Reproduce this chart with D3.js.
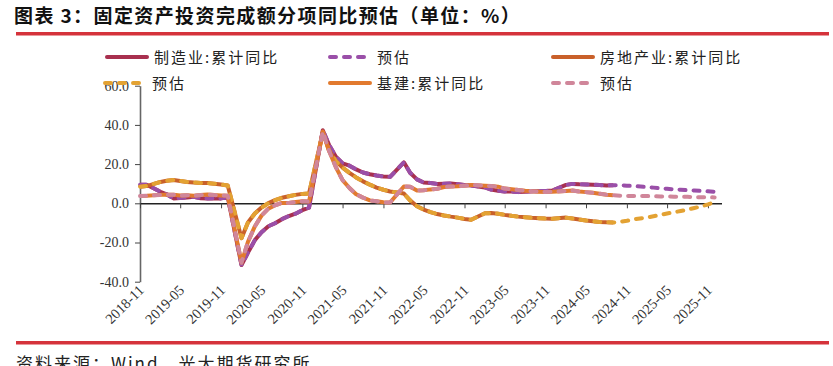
<!DOCTYPE html>
<html>
<head>
<meta charset="utf-8">
<script src="https://cdn.jsdelivr.net/npm/d3@7/dist/d3.min.js"></script>
<style>
  body { margin: 0; background: #fff; }
  svg { display: block; }
</style>
</head>
<body>
<div id="chart"></div>
<script>
// 月份：1月与2月合并公布，所以没有1月的点
const firstMonth = new Date(2018, 10, 1);
const lastMonth = new Date(2025, 11, 1);
const actualEnd = new Date(2024, 8, 1);

// x轴刻度标签
const tickLabels = ['2018-11', '2019-05', '2019-11', '2020-05', '2020-11', '2021-05', '2021-11',
  '2022-05', '2022-11', '2023-05', '2023-11', '2024-05', '2024-11', '2025-05', '2025-11'];
const yTicks = [-40, -20, 0, 20, 40, 60];

// 制造业：累计同比 2018-11 ~ 2024-09
const manufacturing = [9.5, 9.5,
  5.9, 4.6, 2.5, 2.7, 3.0, 3.3, 2.6, 2.5, 2.6, 2.5, 3.1,
  -31.5, -25.2, -18.8, -14.8, -11.7, -10.2, -8.1, -6.5, -5.3, -3.5, -2.2,
  37.3, 29.8, 23.8, 20.4, 19.2, 17.3, 15.7, 14.8, 14.2, 13.7, 13.5,
  20.9, 15.6, 12.2, 10.6, 10.4, 9.9, 10.0, 10.1, 9.7, 9.3, 9.1,
  8.1, 7.0, 6.4, 6.0, 6.0, 5.7, 5.9, 6.2, 6.2, 6.3, 6.5,
  9.4, 9.9, 9.7, 9.6, 9.5, 9.3, 9.1, 9.2];
// 房地产业：累计同比
const realEstate = [8.5, 8.8,
  10.9, 11.5, 11.9, 11.4, 10.9, 10.6, 10.4, 10.3, 10.0, 9.6, 9.1,
  -17.8, -9.8, -5.2, -2.2, 0.1, 1.6, 2.8, 3.6, 4.3, 4.8, 5.0,
  36.2, 27.0, 21.5, 18.2, 15.5, 13.2, 11.2, 9.5, 8.0, 6.9, 6.0,
  5.0, 1.5, -1.5, -3.2, -4.5, -5.5, -6.2, -6.8, -7.3, -8.0, -8.4,
  -5.1, -5.0, -5.3, -5.9, -6.4, -6.8, -7.1, -7.4, -7.6, -7.8, -7.9,
  -7.3, -7.8, -8.3, -8.8, -9.2, -9.5, -9.7, -9.8];
// 基建：累计同比
const infrastructure = [3.7, 3.8,
  4.3, 4.4, 4.4, 4.0, 4.1, 3.8, 4.2, 4.5, 4.2, 4.0, 3.8,
  -30.3, -19.7, -11.8, -6.3, -2.7, -1.0, 0.2, 0.2, 0.7, 1.0, 0.9,
  36.6, 26.8, 18.4, 11.8, 7.8, 4.6, 2.9, 1.5, 1.0, 0.5, 0.4,
  8.6, 8.5, 6.5, 6.7, 7.1, 7.4, 8.3, 8.6, 8.7, 8.9, 9.4,
  9.0, 8.8, 8.5, 7.5, 7.2, 6.8, 6.4, 6.2, 5.9, 5.8, 5.9,
  6.3, 6.5, 6.0, 5.7, 5.4, 4.9, 4.4, 4.1];

// 预估 2024-10 ~ 2025-12
const manufacturingEst = [9.2, 9.0, 8.8, 8.3, 8.0, 7.7, 7.4, 7.1, 6.9, 6.7, 6.5, 6.3, 6.1, 5.9];
const realEstateEst = [-9.5, -8.9, -8.2, -7.2, -6.6, -5.9, -5.2, -4.6, -3.9, -3.2, -2.4, -1.6, -0.6, 0.6];
const infrastructureEst = [3.9, 3.8, 3.7, 3.7, 3.6, 3.5, 3.5, 3.4, 3.4, 3.3, 3.2, 3.1, 3.1, 3.0];

const W = 833, H = 366;
const svg = d3.select('#chart').append('svg').attr('width', W).attr('height', H);
const cjk = '"Noto Sans CJK SC", sans-serif';
const serif = '"Liberation Serif", "Times New Roman", serif';

// **********标题与红线**********
svg.append('text')
  .attr('x', 14).attr('y', 23)
  .attr('font-family', cjk)
  .attr('font-size', '19px').attr('font-weight', 700).attr('letter-spacing', '1.4px')
  .attr('fill', '#111')
  .text('图表 3：固定资产投资完成额分项同比预估（单位：%）');
svg.append('rect').attr('x', 16).attr('y', 32).attr('width', 813).attr('height', 3.5).attr('fill', '#D5333B');
svg.append('rect').attr('x', 16).attr('y', 341).attr('width', 813).attr('height', 3.5).attr('fill', '#D5333B');
svg.append('text')
  .attr('x', 16).attr('y', 370)
  .attr('font-family', cjk)
  .attr('font-size', '17px').attr('letter-spacing', '2px').attr('fill', '#222')
  .text('资料来源：Wind，光大期货研究所');

// **********比例尺**********
const months = d3.timeMonth.range(firstMonth, d3.timeMonth.offset(lastMonth, 1))
  .filter(d => d.getMonth() !== 0);
const x = d3.scaleTime().domain([firstMonth, new Date(2026, 0, 1)]).range([140, 721.5]);
const y = d3.scaleLinear().domain([-40, 60]).range([281.7, 85.7]);
const parseMonth = d3.timeParse('%Y-%m');

// **********坐标轴**********
const yAxis = svg.append('g')
  .attr('transform', `translate(${x.range()[0]},0)`)
  .call(d3.axisLeft(y).tickValues(yTicks).tickSize(5).tickSizeOuter(0).tickFormat(d => d.toFixed(1)));
yAxis.select('.domain').attr('stroke', '#666').attr('stroke-width', 1.6);
yAxis.selectAll('.tick line').attr('stroke', '#444');
yAxis.selectAll('.tick text')
  .attr('font-family', serif).attr('font-size', '14px').attr('fill', '#333')
  .attr('x', -11);

const xAxis = svg.append('g')
  .attr('transform', `translate(0,${y(0)})`)
  .call(d3.axisBottom(x).tickValues(tickLabels.map(parseMonth)).tickSize(5).tickSizeOuter(0).tickFormat(''));
xAxis.select('.domain').attr('stroke', '#222').attr('stroke-width', 1.4);
xAxis.selectAll('.tick line').attr('stroke', '#444');

svg.append('g').selectAll('text')
  .data(tickLabels)
  .join('text')
  .attr('transform', d => `translate(${x(parseMonth(d)) + 5},${291}) rotate(-45)`)
  .attr('text-anchor', 'end')
  .attr('font-family', serif).attr('font-size', '14.5px').attr('fill', '#333')
  .text(d => d);

// **********折线**********
const actualMonths = months.filter(d => d <= actualEnd);
const line = d3.line().x(d => x(d[0])).y(d => y(d[1]));
const series = [
  { name: '制造业:累计同比', values: manufacturing, color: '#A8304F', dash: null },
  { name: '预估', values: manufacturing.concat(manufacturingEst), color: '#9A4FA8', dash: '6,8' },
  { name: '房地产业:累计同比', values: realEstate, color: '#C9602A', dash: null },
  { name: '预估', values: realEstate.concat(realEstateEst), color: '#E3A233', dash: '6,8' },
  { name: '基建:累计同比', values: infrastructure, color: '#E27A2E', dash: null },
  { name: '预估', values: infrastructure.concat(infrastructureEst), color: '#D0869A', dash: '6,8' }
];
// 每组实际值在下，预估虚线叠在上面
series.forEach(s => {
  const ms = s.dash ? months : actualMonths;
  svg.append('path')
    .datum(s.values.map((v, i) => [ms[i], v]))
    .attr('d', line)
    .attr('fill', 'none')
    .attr('stroke', s.color)
    .attr('stroke-width', 4)
    .attr('stroke-linejoin', 'round')
    .attr('stroke-linecap', s.dash ? 'round' : 'butt')
    .attr('stroke-dasharray', s.dash);
});

// **********图例**********
const legendPos = [[105, 57], [328, 57], [551, 57], [103, 83], [328, 83], [551, 83]];
series.forEach((s, i) => {
  const [lx, ly] = legendPos[i];
  const g = svg.append('g').attr('transform', `translate(${lx},${ly})`);
  g.append('line')
    .attr('x1', 2).attr('x2', 42).attr('y1', 0).attr('y2', 0)
    .attr('stroke', s.color).attr('stroke-width', 4)
    .attr('stroke-linecap', 'round')
    .attr('stroke-dasharray', s.dash);
  g.append('text')
    .attr('x', 49).attr('y', 5.5)
    .attr('font-family', cjk)
    .attr('font-size', '15px').attr('letter-spacing', '2px').attr('fill', '#222')
    .text(s.name);
});
</script>
</body>
</html>
